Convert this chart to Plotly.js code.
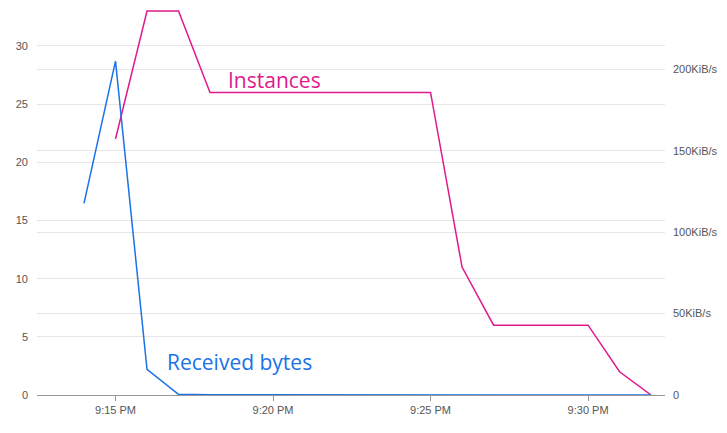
<!DOCTYPE html>
<html>
<head>
<meta charset="utf-8">
<script src="https://cdn.plot.ly/plotly-3.0.1.min.js"></script>
<style>html,body{margin:0;padding:0;background:#fff;}#chart{width:727px;height:433px;}</style>
</head>
<body>
<div id="chart"></div>
<script>
// Data
const instanceTimes = ["2024-01-01 21:15:00","2024-01-01 21:16:00","2024-01-01 21:17:00","2024-01-01 21:18:00","2024-01-01 21:19:00","2024-01-01 21:20:00","2024-01-01 21:21:00","2024-01-01 21:22:00","2024-01-01 21:23:00","2024-01-01 21:24:00","2024-01-01 21:25:00","2024-01-01 21:26:00","2024-01-01 21:27:00","2024-01-01 21:28:00","2024-01-01 21:29:00","2024-01-01 21:30:00","2024-01-01 21:31:00","2024-01-01 21:32:00"];
const instances = [22,33,33,26,26,26,26,26,26,26,26,11,6,6,6,6,2,0];
const bytesTimes = ["2024-01-01 21:14:00","2024-01-01 21:15:00","2024-01-01 21:16:00","2024-01-01 21:17:00","2024-01-01 21:18:00","2024-01-01 21:19:00","2024-01-01 21:20:00","2024-01-01 21:21:00","2024-01-01 21:22:00","2024-01-01 21:23:00","2024-01-01 21:24:00","2024-01-01 21:25:00","2024-01-01 21:26:00","2024-01-01 21:27:00","2024-01-01 21:28:00","2024-01-01 21:29:00","2024-01-01 21:30:00","2024-01-01 21:31:00","2024-01-01 21:32:00"];
const receivedBytes = [120600,210100,16100,400,150,120,110,100,100,90,90,80,70,60,60,50,50,40,30]; // bytes/s
const leftTicks = [0,5,10,15,20,25,30];
const rightTickVals = [0,51200,102400,153600,204800];
const rightTickText = ["0","50KiB/s","100KiB/s","150KiB/s","200KiB/s"];

const pink = "#e0198c";
const blue = "#1a73e8";
const tickFont = {family:"Liberation Sans, Arial, sans-serif", size:11, color:"#555"};

const traces = [
  {x: bytesTimes, y: receivedBytes, type:"scatter", mode:"lines", name:"Received bytes",
   yaxis:"y2", line:{color:blue, width:1.5}, hoverinfo:"skip"},
  {x: instanceTimes, y: instances, type:"scatter", mode:"lines", name:"Instances",
   yaxis:"y", line:{color:pink, width:1.5}, hoverinfo:"skip"}
];

const layout = {
  width:727, height:433,
  margin:{l:37, r:62, t:5, b:38, pad:0},
  paper_bgcolor:"#fff", plot_bgcolor:"#fff",
  showlegend:false,
  xaxis:{type:"date", range:["2024-01-01 21:12:30.5","2024-01-01 21:32:26.5"],
    dtick:300000, tick0:"2024-01-01 21:15:00", tickformat:"%-I:%M %p",
    showgrid:false, showline:true, linecolor:"#999", linewidth:1,
    ticks:"outside", ticklen:5, tickcolor:"#999", tickfont:tickFont, zeroline:false},
  yaxis:{range:[0,33.52], tickvals:leftTicks, showgrid:true, gridcolor:"#e6e6e6",
    zeroline:false, showline:false, ticks:"", tickfont:tickFont, ticklabelstandoff:8},
  yaxis2:{overlaying:"y", side:"right", range:[0,245370], tickvals:rightTickVals, ticktext:rightTickText,
    showgrid:true, gridcolor:"#e6e6e6", zeroline:false, showline:false, ticks:"",
    tickfont:tickFont, ticklabelstandoff:7},
  annotations:[
    {xref:"paper", yref:"paper", x:0.3775, y:0.807, xanchor:"center", yanchor:"middle",
     text:"Instances", showarrow:false, font:{family:"Open Sans, sans-serif", size:21, color:pink}},
    {xref:"paper", yref:"paper", x:0.3225, y:0.085, xanchor:"center", yanchor:"middle",
     text:"Received bytes", showarrow:false, font:{family:"Open Sans, sans-serif", size:21, color:blue}}
  ]
};

Plotly.newPlot("chart", traces, layout, {displayModeBar:false, staticPlot:true});
</script>
</body>
</html>
